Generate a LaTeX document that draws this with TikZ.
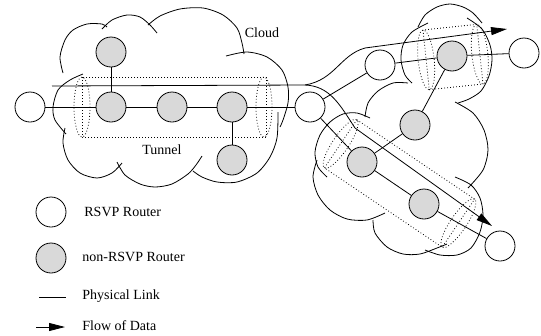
\documentclass[tikz,border=0pt]{standalone}
\usepackage{fontspec}
\setmainfont{Liberation Serif}
\usetikzlibrary{arrows.meta}
\definecolor{routergray}{HTML}{D9D9D9}

\begin{document}
\begin{tikzpicture}[x=1pt, y=-1pt, line width=0.8pt,
    rsvp/.style={circle, draw, fill=white, minimum size=30pt, inner sep=0pt},
    nonrsvp/.style={rsvp, fill=routergray},
    tunnelline/.style={dash pattern=on 0.8pt off 2.2pt},
    flowline/.style={-{Triangle[length=16pt, width=8pt]}},
    txt/.style={font=\fontsize{14}{17}\selectfont, inner sep=0pt}]
\useasboundingbox (0,0) rectangle (541,335);

% Left cloud
\draw plot[smooth] coordinates {(63,73) (60,57) (65,40) (73,30) (87,24) (102,24) (107,27)};
\draw plot[smooth] coordinates {(102,29) (112,20) (127,15) (140,17) (150,25) (157,33)};
\draw plot[smooth] coordinates {(148,25) (160,16) (180,9) (203,8) (223,15) (237,28) (242,43) (244,54)};
\draw plot[smooth] coordinates {(226,56) (247,52) (267,57) (282,70) (288,87) (288,103) (283,120) (280,127)};
\draw plot[smooth] coordinates {(278,112) (277,138) (270,157) (257,173) (237,182) (217,182) (202,177) (193,171)};
\draw plot[smooth] coordinates {(117,162) (125,175) (140,184) (155,187) (172,184) (188,174) (196,165) (202,156)};
\draw plot[smooth] coordinates {(65,128) (63,143) (68,160) (80,173) (97,178) (112,173) (122,163)};
\draw plot[smooth] coordinates {(83,74) (70,80) (58,90) (53,107) (55,120) (66,134)};

% Right cloud (upper part)
\draw plot[smooth] coordinates {(428,23) (412,32) (403,45) (401,60) (405,75) (412,83)};
\draw plot[smooth] coordinates {(418,27) (425,15) (437,7) (450,4) (463,7) (473,13) (482,23)};
\draw plot[smooth] coordinates {(467,18) (482,29) (490,45) (492,60) (489,76) (481,91) (469,99) (458,103)};

% Right cloud (lower part)
\draw plot[smooth] coordinates {(408,83) (393,83) (378,91) (368,103) (365,117)};
\draw plot[smooth] coordinates {(370,118) (357,113) (343,114) (330,122) (320,135) (315,152) (318,167) (327,177)};
\draw plot[smooth] coordinates {(317,160) (313,177) (318,195) (330,210) (347,219) (367,220) (385,213)};
\draw plot[smooth] coordinates {(373,220) (375,233) (387,247) (403,254) (420,254) (437,248) (447,244)};
\draw plot[smooth] coordinates {(425,250) (440,255) (457,255) (471,248) (480,232) (483,215) (480,198) (471,185) (455,177)};
\draw plot[smooth] coordinates {(455,102) (473,113) (484,130) (488,150) (483,170) (468,188)};

% Tunnels
\draw[tunnelline] (82,77) rectangle (266,137);
\draw[tunnelline] (82,107) ellipse [x radius=8, y radius=30];
\draw[tunnelline] (264,107) ellipse [x radius=8, y radius=30];
\begin{scope}[shift={(453,57)}, rotate=6]
  \draw[tunnelline] (-27,-30) rectangle (27,30);
  \draw[tunnelline] (-27,0) ellipse [x radius=8, y radius=30];
  \draw[tunnelline] (27,0) ellipse [x radius=8, y radius=30];
\end{scope}
\begin{scope}[shift={(399.5,183.5)}, rotate=-34]
  \draw[tunnelline] (-71,-29) rectangle (71,29);
  \draw[tunnelline] (-71,0) ellipse [x radius=8, y radius=29];
  \draw[tunnelline] (71,0) ellipse [x radius=8, y radius=29];
\end{scope}

% Routers
\node[rsvp] (r1) at (30,107) {};
\node[nonrsvp] (g1) at (111,52) {};
\node[nonrsvp] (g2) at (111,107) {};
\node[nonrsvp] (g3) at (172,107) {};
\node[nonrsvp] (g4) at (232,107) {};
\node[nonrsvp] (g5) at (232,160) {};
\node[rsvp] (r2) at (310,107) {};
\node[rsvp] (r3) at (380,65) {};
\node[nonrsvp] (g6) at (452,56) {};
\node[rsvp] (r4) at (524,53) {};
\node[nonrsvp] (g7) at (415,125) {};
\node[nonrsvp] (g8) at (362,162) {};
\node[nonrsvp] (g9) at (424,204) {};
\node[rsvp] (r5) at (500,246) {};

% Physical links
\draw (r1) -- (g2) -- (g3) -- (g4) -- (r2);
\draw (g1) -- (g2);
\draw (g4) -- (g5);
\draw (r2) -- (r3) -- (g6) -- (r4);
\draw (g6) -- (g7) -- (g8);
\draw (r2) -- (g8) -- (g9) -- (r5);

% Flow of data
\coordinate (fstart) at (52,86);
\coordinate (fsplit) at (305,85);
\coordinate (fend1) at (507,29);
\coordinate (fend2) at (492,226);
\draw[flowline] (fstart) -- (fsplit) .. controls (335,80) and (340,55) .. (365,48) -- (fend1);
\draw[flowline] (fsplit) .. controls (330,86) and (340,105) .. (355,128) -- (fend2);

\node[txt] (cloudtxt) at (262,33) {Cloud};
\node[txt] (tunneltxt) at (162,150) {Tunnel};

% Legend
\node[rsvp] (legr) at (51,212) {};
\node[nonrsvp] (legg) at (51,258) {};
\coordinate (linka) at (39,297);
\coordinate (linkb) at (66,297);
\coordinate (flowa) at (36,327);
\coordinate (flowb) at (65,327);
\draw (linka) -- (linkb);
\draw[flowline] (flowa) -- (flowb);
\node[txt, anchor=west] (legrtxt) at (84,212) {RSVP Router};
\node[txt, anchor=west] (leggtxt) at (82,257) {non-RSVP Router};
\node[txt, anchor=west] (legltxt) at (82,296) {Physical Link};
\node[txt, anchor=west] (legftxt) at (82,326) {Flow of Data};
\end{tikzpicture}
\end{document}
